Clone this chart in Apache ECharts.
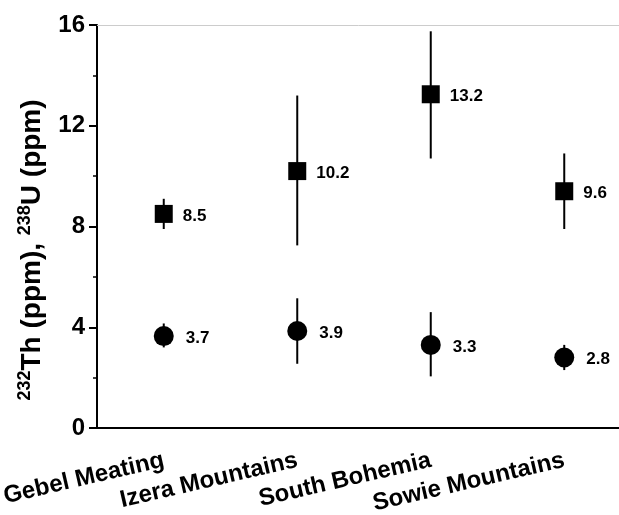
<!DOCTYPE html>
<html>
<head>
<meta charset="utf-8">
<script src="https://cdn.jsdelivr.net/npm/echarts@6/dist/echarts.min.js"></script>
<style>
html,body{margin:0;padding:0;background:#fff;}
#c{width:619px;height:515px;}
</style>
</head>
<body>
<div id="c"></div>
<script>
var categories = ['Gebel Meating', 'Izera Mountains', 'South Bohemia', 'Sowie Mountains'];
var yTicks = [0, 4, 8, 12, 16];
// squares (upper series)
var squareValues = [8.5, 10.2, 13.25, 9.4];
var squareLow = [7.9, 7.25, 10.7, 7.9];
var squareHigh = [9.1, 13.2, 15.75, 10.9];
var squareLabels = ['8.5', '10.2', '13.2', '9.6'];
// circles (lower series)
var circleValues = [3.65, 3.85, 3.3, 2.8];
var circleLow = [3.2, 2.55, 2.05, 2.3];
var circleHigh = [4.15, 5.15, 4.6, 3.3];
var circleLabels = ['3.7', '3.9', '3.3', '2.8'];

var FONT = '"Liberation Sans", Arial, sans-serif';

function errData(low, high) {
  return categories.map(function (c, i) { return [i, low[i], high[i]]; });
}
function errRender(params, api) {
  var x = api.value(0);
  var p1 = api.coord([x, api.value(1)]);
  var p2 = api.coord([x, api.value(2)]);
  return {
    type: 'line',
    shape: { x1: p1[0], y1: p1[1], x2: p2[0], y2: p2[1] },
    style: { stroke: '#000', lineWidth: 2 }
  };
}

var chart = echarts.init(document.getElementById('c'), null, { renderer: 'canvas' });
chart.setOption({
  backgroundColor: '#fff',
  animation: false,
  grid: { left: 97, top: 25, width: 534, bottom: 87, outerBoundsMode: 'none', containLabel: false },
  xAxis: [{
    type: 'category',
    data: categories,
    position: 'bottom',
    axisLine: { lineStyle: { color: '#000', width: 2 } },
    axisTick: { alignWithLabel: true, length: 8, lineStyle: { color: '#000', width: 2 } },
    axisLabel: {
      rotate: 13, margin: 32, color: '#000', fontSize: 24, fontWeight: 'bold', fontFamily: FONT,
      interval: 0
    },
    splitLine: { show: false }
  }, {
    type: 'category',
    data: categories,
    position: 'top',
    axisLine: { lineStyle: { color: '#cccccc', width: 1 } },
    axisTick: { show: false },
    axisLabel: { show: false },
    splitLine: { show: false }
  }],
  yAxis: {
    type: 'value',
    min: yTicks[0], max: yTicks[yTicks.length - 1], interval: 4,
    axisLine: { show: true, lineStyle: { color: '#000', width: 2 } },
    axisTick: { show: true, length: 8, lineStyle: { color: '#000', width: 2 } },
    minorTick: { show: true, splitNumber: 2, length: 4, lineStyle: { color: '#000', width: 1.5 } },
    axisLabel: { margin: 12, color: '#000', fontSize: 24, fontWeight: 'bold', fontFamily: FONT },
    splitLine: { show: false }
  },
  graphic: [{
    type: 'text',
    x: 32, y: 250,
    rotation: Math.PI / 2,
    style: {
      text: '{s|232}{m|Th (ppm), }{s|238}{m|U (ppm)}',
      textAlign: 'center',
      textVerticalAlign: 'middle',
      fill: '#000',
      rich: {
        m: { fontSize: 28, fontWeight: 'bold', fontFamily: FONT, lineHeight: 32, fill: '#000' },
        s: { fontSize: 18, fontWeight: 'bold', fontFamily: FONT, lineHeight: 32, verticalAlign: 'top', fill: '#000' }
      }
    }
  }],
  series: [{
    type: 'custom',
    renderItem: errRender,
    data: errData(squareLow, squareHigh),
    encode: { x: 0, y: [1, 2] },
    z: 1
  }, {
    type: 'custom',
    renderItem: errRender,
    data: errData(circleLow, circleHigh),
    encode: { x: 0, y: [1, 2] },
    z: 1
  }, {
    type: 'scatter',
    data: squareValues,
    symbol: 'rect',
    symbolSize: 18,
    itemStyle: { color: '#000', opacity: 1 },
    z: 3,
    label: {
      show: true, position: 'right', distance: 10, offset: [0, 2],
      color: '#000', fontSize: 17, fontWeight: 'bold', fontFamily: FONT,
      formatter: function (p) { return squareLabels[p.dataIndex]; }
    }
  }, {
    type: 'scatter',
    data: circleValues,
    symbol: 'circle',
    symbolSize: 20,
    itemStyle: { color: '#000', opacity: 1 },
    z: 3,
    label: {
      show: true, position: 'right', distance: 12, offset: [0, 2],
      color: '#000', fontSize: 17, fontWeight: 'bold', fontFamily: FONT,
      formatter: function (p) { return circleLabels[p.dataIndex]; }
    }
  }]
});
</script>
</body>
</html>
